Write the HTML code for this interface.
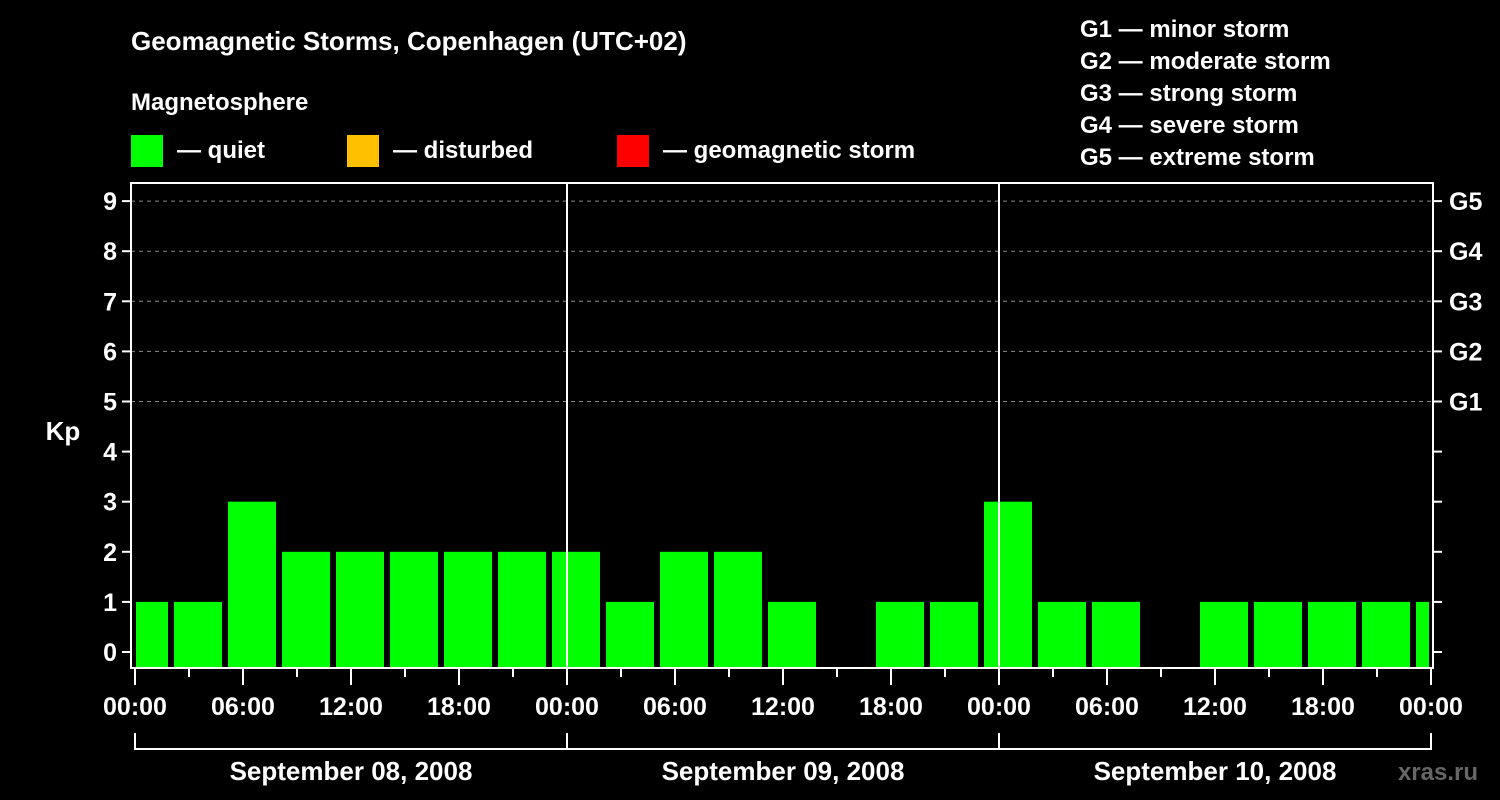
<!DOCTYPE html>
<html><head><meta charset="utf-8"><style>
html,body{margin:0;padding:0;background:#000;}
svg{display:block;font-family:"Liberation Sans",sans-serif;font-weight:bold;}
</style></head><body>
<svg id="chart" width="1500" height="800" viewBox="0 0 1500 800">
<text x="131" y="50" fill="#fff" font-size="26">Geomagnetic Storms, Copenhagen (UTC+02)</text>
<text x="131" y="110" fill="#fff" font-size="24">Magnetosphere</text>
<g><rect x="131" y="135" width="32" height="32" fill="#00ff00"/><text x="177" y="158" fill="#fff" font-size="24">— quiet</text></g>
<g><rect x="347" y="135" width="32" height="32" fill="#ffc000"/><text x="393" y="158" fill="#fff" font-size="24">— disturbed</text></g>
<g><rect x="617" y="135" width="32" height="32" fill="#ff0000"/><text x="663" y="158" fill="#fff" font-size="24">— geomagnetic storm</text></g>
<g fill="#fff" font-size="24">
<text x="1080" y="37">G1 — minor storm</text>
<text x="1080" y="69">G2 — moderate storm</text>
<text x="1080" y="101">G3 — strong storm</text>
<text x="1080" y="133">G4 — severe storm</text>
<text x="1080" y="165">G5 — extreme storm</text>
</g>
<text x="63" y="440" fill="#fff" font-size="26" text-anchor="middle">Kp</text>
<text x="1478" y="780" fill="#666" font-size="24" text-anchor="end">xras.ru</text>
<g id="grid"></g>
<g id="bars"></g>
<g id="axes"></g>
</svg>
<script>
const kpValues=[1,1,3,2,2,2,2,2,2,1,2,2,1,0,1,1,3,1,1,0,1,1,1,1,1];
const yTicks=[0,1,2,3,4,5,6,7,8,9];
const gLabels=["G1","G2","G3","G4","G5"];
const xTickLabels=["00:00","06:00","12:00","18:00","00:00","06:00","12:00","18:00","00:00","06:00","12:00","18:00","00:00"];
const dayLabels=["September 08, 2008","September 09, 2008","September 10, 2008"];
const NS="http://www.w3.org/2000/svg";
const X0=135, PXH=18, Y0=652, PXU=50.1;
const L=131,R=1433,T=183,B=668;
const x=h=>X0+h*PXH;
const y=v=>Y0-v*PXU;
function mk(p,tag,a){const e=document.createElementNS(NS,tag);for(const k in a)e.setAttribute(k,a[k]);p.appendChild(e);return e;}
const grid=document.getElementById('grid'),bars=document.getElementById('bars'),axes=document.getElementById('axes');
yTicks.forEach(v=>{if(v>=5){const l=mk(grid,'line',{x1:L,x2:R,y1:y(v),y2:y(v),stroke:'#888','stroke-dasharray':'4,4','stroke-width':1});

}});
kpValues.forEach((v,i)=>{let x1=x(i*3)-15,x2=x1+48;x1=Math.max(x1,L+5);x2=Math.min(x2,R-4);
if(v<=0)return;
const r=mk(bars,'rect',{x:x1,y:y(v),width:x2-x1,height:B-1-y(v),fill:'#00ff00'});

});
// day separators
[1,2].forEach(d=>{const l=mk(axes,'line',{x1:x(d*24),x2:x(d*24),y1:T,y2:B,stroke:'#fff','stroke-width':2});

});
const f=mk(axes,'rect',{x:L,y:T,width:R-L,height:B-T,fill:'none',stroke:'#fff','stroke-width':2});


yTicks.forEach(v=>{mk(axes,'line',{x1:L-9,x2:L,y1:y(v),y2:y(v),stroke:'#fff','stroke-width':2});
mk(axes,'line',{x1:R,x2:R+9,y1:y(v),y2:y(v),stroke:'#fff','stroke-width':2});
const t=mk(axes,'text',{x:L-14,y:y(v)+9,fill:'#fff','font-size':25,'text-anchor':'end'});t.textContent=v;

});
gLabels.forEach((g,i)=>{const t=mk(axes,'text',{x:1449,y:y(5+i)+9,fill:'#fff','font-size':25});t.textContent=g;

});
for(let h=0;h<=72;h+=3){const major=h%6===0;mk(axes,'line',{x1:x(h),x2:x(h),y1:B,y2:B+(major?17:9),stroke:'#fff','stroke-width':2});}
xTickLabels.forEach((s,i)=>{const t=mk(axes,'text',{x:x(i*6),y:715,fill:'#fff','font-size':25,'text-anchor':'middle'});t.textContent=s;

});
dayLabels.forEach((s,d)=>{mk(axes,'polyline',{points:`${x(d*24)},733 ${x(d*24)},749 ${x(d*24+24)},749 ${x(d*24+24)},733`,fill:'none',stroke:'#fff','stroke-width':2});
const t=mk(axes,'text',{x:x(d*24+12),y:780,fill:'#fff','font-size':26,'text-anchor':'middle'});t.textContent=s;

});
</script>
</body></html>
